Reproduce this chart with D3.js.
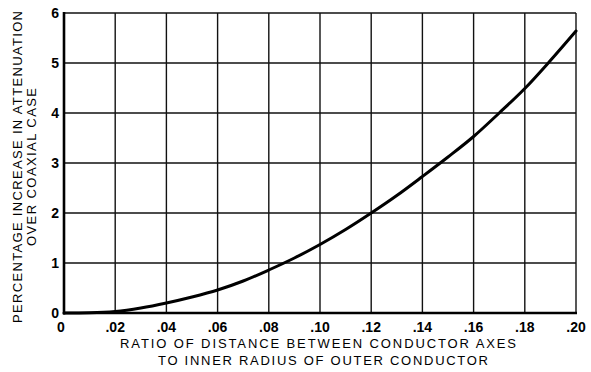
<!DOCTYPE html>
<html><head><meta charset="utf-8">
<script src="https://cdn.jsdelivr.net/npm/d3@7"></script>
<style>body{margin:0;background:#fff}svg{display:block}</style>
</head><body>
<svg id="c" width="591" height="372"></svg>
<script>
const ratioX = [0,0.01,0.02,0.03,0.04,0.05,0.06,0.07,0.08,0.09,0.10,0.11,0.12,0.13,0.14,0.15,0.16,0.17,0.18,0.19,0.20];
const increasePct = [0,0.005,0.03,0.1,0.2,0.32,0.46,0.64,0.86,1.1,1.37,1.67,2.0,2.35,2.73,3.12,3.53,4.0,4.49,5.05,5.64];
const xTicks = [0,0.02,0.04,0.06,0.08,0.10,0.12,0.14,0.16,0.18,0.20];
const xTickLabels = ["0",".02",".04",".06",".08",".10",".12",".14",".16",".18",".20"];
const yTicks = [0,1,2,3,4,5,6];
const xTitle = ["RATIO OF DISTANCE BETWEEN CONDUCTOR AXES","TO INNER RADIUS OF OUTER CONDUCTOR"];
const yTitle = ["PERCENTAGE INCREASE IN ATTENUATION","OVER COAXIAL CASE"];

const svg = d3.select("#c");
const L=64,R=576,T=13,B=313;
const x = d3.scaleLinear().domain([0,0.2]).range([L,R]);
const y = d3.scaleLinear().domain([0,6]).range([B,T]);
const font = "'Liberation Sans', Arial, sans-serif";

// grid
svg.append("g").selectAll("line").data(xTicks.slice(1)).join("line")
  .attr("x1",d=>x(d)).attr("x2",d=>x(d)).attr("y1",T).attr("y2",B)
  .attr("stroke","#111").attr("stroke-width",1.4);
svg.append("g").selectAll("line").data(yTicks.slice(1)).join("line")
  .attr("x1",L).attr("x2",R).attr("y1",d=>y(d)).attr("y2",d=>y(d))
  .attr("stroke","#111").attr("stroke-width",1.4);
// axes
svg.append("line").attr("x1",L).attr("x2",L).attr("y1",T-1).attr("y2",B+1.5).attr("stroke","#000").attr("stroke-width",2.6);
svg.append("line").attr("x1",L-1).attr("x2",R+1).attr("y1",B).attr("y2",B).attr("stroke","#000").attr("stroke-width",2.6);

// curve
svg.append("path").datum(ratioX.map((v,i)=>[v,increasePct[i]]))
  .attr("fill","none").attr("stroke","#000").attr("stroke-width",3)
  .attr("stroke-linecap","round")
  .attr("d",d3.line().x(d=>x(d[0])).y(d=>y(d[1])).curve(d3.curveMonotoneX));

// x tick labels
svg.append("g").selectAll("text").data(xTicks).join("text")
  .attr("x",(d,i)=>i===0?x(d)-3:x(d)).attr("y",332)
  .attr("text-anchor","middle").attr("font-family",font).attr("font-weight","bold")
  .attr("font-size",14).text((d,i)=>xTickLabels[i]);
// y tick labels
svg.append("g").selectAll("text").data(yTicks).join("text")
  .attr("x",59).attr("y",d=>y(d)+5)
  .attr("text-anchor","end").attr("font-family",font).attr("font-weight","bold")
  .attr("font-size",14).text(d=>d);

// x title
svg.append("text").attr("x",318).attr("y",348).attr("text-anchor","middle")
  .attr("font-family",font).attr("font-size",13).attr("textLength",396).attr("lengthAdjust","spacing")
  .text(xTitle[0]);
svg.append("text").attr("x",323).attr("y",365).attr("text-anchor","middle")
  .attr("font-family",font).attr("font-size",13).attr("textLength",330).attr("lengthAdjust","spacing")
  .text(xTitle[1]);
// y title
svg.append("text").attr("transform","translate(22,167) rotate(-90)").attr("text-anchor","middle")
  .attr("font-family",font).attr("font-size",13).attr("textLength",312).attr("lengthAdjust","spacing")
  .text(yTitle[0]);
svg.append("text").attr("transform","translate(36,167) rotate(-90)").attr("text-anchor","middle")
  .attr("font-family",font).attr("font-size",13).attr("textLength",158).attr("lengthAdjust","spacing")
  .text(yTitle[1]);
</script>
</body></html>
